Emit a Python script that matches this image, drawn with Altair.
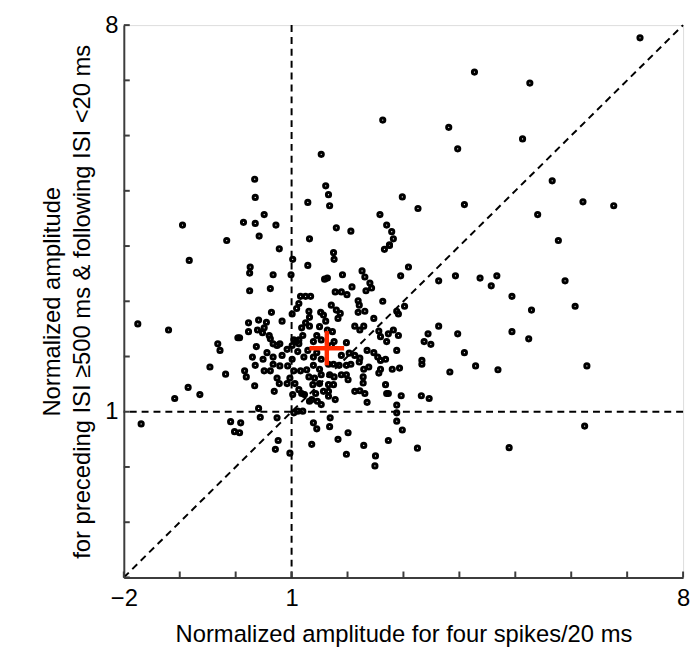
import altair as alt
import pandas as pd

# Scatter points (x: four spikes/20 ms, y: preceding ISI >=500 ms & following ISI <20 ms)
xs = [2.63, 1.53, 0.34, 1.61, 1.66, 0.35, 2.98, 1.29, 1.68, 3.26, 0.51, 2.58, 0.14, 0.35, -0.95,
      0.72, 2.70, 1.80, 2.06, 2.79, 0.42, 2.82, -0.16, 1.32, 2.75,
      7.23, 4.27, 5.26, 3.81, 5.13, 3.97, 5.66, 6.21, 4.09, 6.76, 5.40, 5.77, 3.63, 3.93, 4.37,
      4.67, 4.57, 5.89, 4.94,
      -0.83, -1.75, -1.20, -0.32, -0.28, 0.04,
      0.78, 1.02, 0.26, 0.25, 0.67, 0.99, 1.29, 1.59, 0.25, 0.62, 1.16, 1.25, 1.34, 1.13, 1.09,
      0.64, 1.31, 1.01, 1.52, 1.32, 1.57, 0.41, 0.83, 0.23, 0.55, 1.25, 1.61, 1.32, 0.51, 0.39,
      1.18, 1.50, 0.23, 0.48, 0.60, 1.20, 1.45, 0.07, 0.62, 1.04, 1.08, 1.13, 1.39, 1.53, 0.67,
      0.79, 0.37, 0.74, 1.01, 1.13, 0.92, 0.56, 1.11, 1.29, 1.45, 0.30, 0.49, 0.67, 0.83, 1.01,
      1.22, 1.39, 1.53,
      2.66, 2.75, 1.75, 1.76, 3.09, 2.26, 2.95, 1.91, 2.31, 1.64, 2.40, 2.08, 2.43, 1.78, 1.89,
      2.33, 1.99, 2.19, 2.63, 1.71, 2.21, 3.02, 1.80, 1.87, 2.19, 2.31, 2.88, 2.91, 1.83, 2.47,
      2.13, 2.29, 2.22, 2.56, 2.82, 2.73, 2.91, 3.44, 2.59, 2.70, 3.37, 3.49, 1.64, 1.73, 1.76,
      1.98, 1.71, 2.35, 2.03, 2.47, 2.88, 1.89, 2.13, 2.22, 2.54, 2.59, 2.68, 3.33,
      -0.46, -0.18, -0.85, -1.09, -0.64, -1.69, -0.09, -0.02,
      0.16, 0.19, 0.34, 0.35, 0.51, 0.62, 0.67, 0.79, 0.93, 1.04, 1.16, 1.27, 1.39, 1.50, 0.74,
      0.97, 0.78, 0.92, 1.06, 1.31, 1.41, 1.53, 1.38, 1.50, 1.13, 0.69, 1.18, 1.23, 1.02, 1.43,
      1.57, 1.36, 1.46, 1.53, 1.32, 0.41, 0.44, 1.04, 1.11, 1.20, 0.74, 0.09, 0.07, 1.39, 1.45,
      0.76, 0.71, 1.36, 0.97,
      1.66, 1.75, 1.85, 1.98, 2.06, 2.21, 2.38, 2.29, 2.59, 2.56, 2.80, 2.93, 3.33, 1.68, 1.76,
      1.89, 1.98, 2.01, 2.28, 1.66, 1.75, 2.28, 2.68, 1.66, 2.13, 2.22, 2.31, 2.70, 2.73, 2.96,
      3.32, 3.46, 1.66, 1.78, 2.35, 2.88, 2.88, 1.69, 2.88, 1.68, 2.98, 2.01, 1.83, 2.73, 2.29,
      3.25, 1.98, 2.50, 2.49,
      5.29, 6.07, 3.63, 3.97, 4.94, 5.24, 4.09, 4.29, 3.83, 4.69, 6.28, 6.24, 4.89]
ys = [6.28, 5.66, 5.21, 5.09, 4.93, 4.88, 4.89, 4.79, 4.73, 4.68, 4.57, 4.57, 4.43, 4.41, 4.38,
      4.38, 4.38, 4.33, 4.27, 4.26, 4.18, 4.13, 4.10, 4.13, 4.02,
      7.77, 7.15, 6.95, 6.15, 5.94, 5.76, 5.18, 4.80, 4.75, 4.73, 4.57, 4.10, 3.37, 3.46, 3.42,
      3.46, 3.28, 3.37, 3.09,
      3.74, 2.59, 2.48, 2.23, 2.11, 2.34,
      3.95, 3.76, 3.62, 3.51, 3.48, 3.48, 3.65, 3.40, 3.19, 3.23, 3.09, 3.09, 3.09, 2.96, 2.87,
      2.80, 2.82, 2.77, 2.80, 2.71, 2.75, 2.66, 2.64, 2.61, 2.62, 2.61, 2.64, 2.55, 2.52, 2.48,
      2.52, 2.54, 2.45, 2.43, 2.38, 2.38, 2.38, 2.34, 2.32, 2.30, 2.27, 2.30, 2.27, 2.30, 2.23,
      2.23, 2.18, 2.20, 2.20, 2.23, 2.13, 2.07, 2.09, 2.11, 2.07, 1.99, 1.95, 1.99, 2.02, 1.95,
      1.99, 1.99, 1.95,
      3.94, 4.01, 3.88, 3.76, 3.62, 3.55, 3.46, 3.48, 3.44, 3.42, 3.33, 3.26, 3.24, 3.17, 3.17,
      3.19, 3.12, 3.01, 3.00, 2.93, 2.93, 2.91, 2.84, 2.78, 2.80, 2.82, 2.82, 2.77, 2.69, 2.69,
      2.55, 2.55, 2.48, 2.46, 2.48, 2.41, 2.38, 2.41, 2.36, 2.27, 2.27, 2.22, 2.48, 2.45, 2.27,
      2.25, 2.20, 2.11, 2.06, 2.07, 2.11, 2.02, 2.02, 1.97, 1.99, 1.93, 1.95, 1.93,
      1.81, 1.68, 1.44, 1.24, 1.31, 0.78, 0.82, 0.64,
      1.74, 1.63, 1.47, 1.84, 1.74, 1.74, 1.86, 1.83, 1.83, 1.74, 1.74, 1.76, 1.84, 1.77, 1.61,
      1.61, 1.51, 1.51, 1.51, 1.63, 1.61, 1.67, 1.49, 1.51, 1.40, 1.37, 1.33, 1.31, 1.31, 1.33,
      1.37, 1.22, 1.19, 1.13, 1.19, 1.06, 0.90, 0.98, 1.01, 1.01, 0.89, 0.80, 0.62, 0.80, 0.69,
      0.48, 0.32, 0.41, 0.25,
      1.86, 1.86, 1.84, 1.84, 1.86, 1.90, 1.81, 1.77, 1.77, 1.70, 1.77, 1.79, 1.86, 1.67, 1.63,
      1.67, 1.67, 1.58, 1.63, 1.49, 1.49, 1.52, 1.49, 1.37, 1.37, 1.38, 1.33, 1.33, 1.33, 1.29,
      1.29, 1.24, 1.28, 1.22, 1.17, 1.12, 0.98, 0.89, 0.83, 0.73, 0.67, 0.62, 0.50, 0.48, 0.39,
      0.34, 0.23, 0.20, 0.02,
      2.84, 2.91, 2.55, 2.41, 2.45, 2.32, 2.07, 1.83, 1.72, 1.76, 1.83, 0.74, 0.35]

# Mean marker (red cross)
cross_x = 1.63
cross_y = 2.15
cross_half_x = 0.31
cross_half_y = 0.31

tick_values = [-2, -1, 0, 1, 2, 3, 4, 5, 6, 7, 8]
x_label_values = [-2, 1, 8]
y_label_values = [1, 8]
lo, hi = -2, 8

W, H = 565, 558

pts = pd.DataFrame({"x": xs, "y": ys})
xsc = alt.Scale(domain=[lo, hi], nice=False, zero=False)
ysc = alt.Scale(domain=[lo, hi], nice=False, zero=False)

font = "Liberation Sans"
FS = 24

xaxis = alt.Axis(values=x_label_values, ticks=False, grid=False, domainColor="#3c3c3c",
                 domainWidth=2, labelFontSize=FS, labelColor="black", labelPadding=9,
                 labelFont=font, title="Normalized amplitude for four spikes/20 ms",
                 titleFontSize=FS, titleFont=font, titleFontWeight="normal",
                 titleColor="black", titlePadding=13, labelFlush=False)
yaxis = alt.Axis(values=y_label_values, ticks=False, grid=False, domainColor="#3c3c3c",
                 domainWidth=2, labelFontSize=FS, labelColor="black", labelPadding=6,
                 labelFont=font,
                 title=["Normalized amplitude",
                        "for preceding ISI \u2265500 ms & following ISI <20 ms"],
                 titleFontSize=FS, titleFont=font, titleFontWeight="normal",
                 titleColor="black", titlePadding=10, titleLineHeight=31, labelFlush=False)

base_x = alt.X("x:Q", scale=xsc, axis=xaxis)
base_y = alt.Y("y:Q", scale=ysc, axis=yaxis)

# reference lines
vline = alt.Chart(pd.DataFrame({"x": [1]})).mark_rule(
    color="black", strokeWidth=2, strokeDash=[7, 5]).encode(
    x=alt.X("x:Q", scale=xsc, axis=xaxis))
hline = alt.Chart(pd.DataFrame({"y": [1]})).mark_rule(
    color="black", strokeWidth=2, strokeDash=[7, 5]).encode(
    y=alt.Y("y:Q", scale=ysc, axis=yaxis))
diag = alt.Chart(pd.DataFrame({"x": [lo], "y": [lo], "x2": [hi], "y2": [hi]})).mark_rule(
    color="black", strokeWidth=2, strokeDash=[7, 5]).encode(
    x=base_x, y=base_y, x2="x2:Q", y2="y2:Q")

# inward ticks
xticks = alt.Chart(pd.DataFrame({"x": tick_values})).mark_rule(
    color="#3c3c3c", strokeWidth=2).encode(
    x=alt.X("x:Q", scale=xsc, axis=xaxis), y=alt.value(H), y2=alt.value(H - 6))
yticks = alt.Chart(pd.DataFrame({"y": tick_values})).mark_rule(
    color="#3c3c3c", strokeWidth=2).encode(
    y=alt.Y("y:Q", scale=ysc, axis=yaxis), x=alt.value(0), x2=alt.value(6))

points = alt.Chart(pts).mark_point(
    shape="circle", filled=False, color="black", strokeWidth=3, size=18, opacity=1).encode(
    x=base_x, y=base_y)

cross_h = alt.Chart(pd.DataFrame({"x": [cross_x - cross_half_x], "x2": [cross_x + cross_half_x],
                                  "y": [cross_y]})).mark_rule(
    color="#ff2a00", strokeWidth=4.5).encode(x=base_x, x2="x2:Q", y=base_y)
cross_v = alt.Chart(pd.DataFrame({"y": [cross_y - cross_half_y], "y2": [cross_y + cross_half_y],
                                  "x": [cross_x]})).mark_rule(
    color="#ff2a00", strokeWidth=4.5).encode(x=base_x, y=base_y, y2="y2:Q")

chart = alt.layer(vline, hline, diag, xticks, yticks, points, cross_h, cross_v).properties(
    width=W, height=H,
    autosize=alt.AutoSizeParams(type="none"),
    padding={"left": 117, "top": 14, "right": 8, "bottom": 69},
).configure_view(stroke=None).configure(font=font)

chart.save("out.html", embed_options={"renderer": "svg", "actions": False})
